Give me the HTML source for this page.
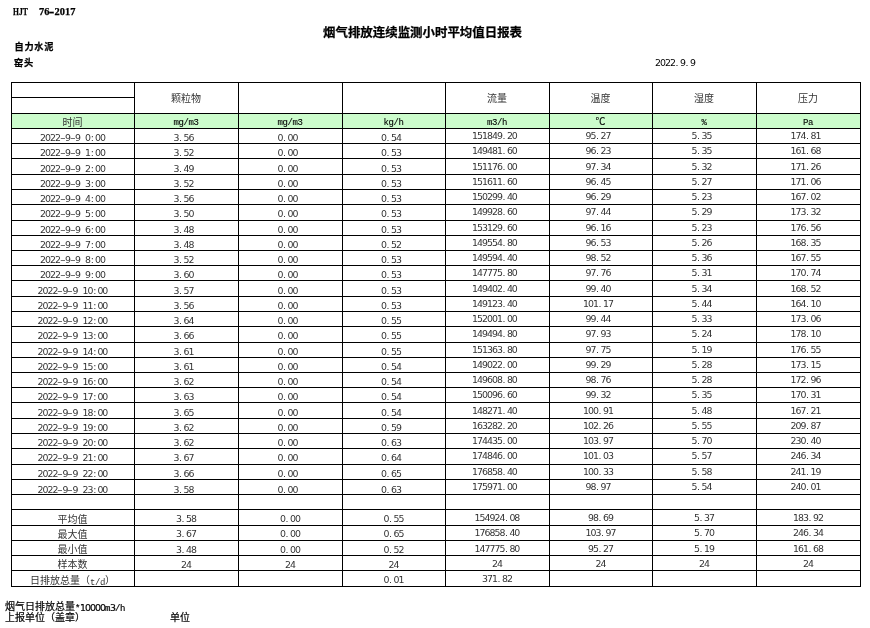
<!DOCTYPE html>
<html><head><meta charset="utf-8"><style>
html,body{margin:0;padding:0;background:#fff;width:870px;height:628px;overflow:hidden}
#p{position:relative;width:870px;height:628px;background:#fff}
.l{position:absolute;background:#000}
.g{position:absolute;background:#ccfccc}
.t,.a{position:absolute;white-space:nowrap;font-family:"DejaVu Sans","Noto Sans CJK SC",sans-serif;font-size:9.4px;line-height:10px;height:10px;color:#333;letter-spacing:-0.98px}
.t{text-align:center;margin-top:-9px;margin-left:-0.6px}
.t.h{margin-top:0}
i{font-style:normal;display:inline-block;letter-spacing:0}
i.p{width:5px;text-align:left;text-indent:0.5px}
i.c{width:5px;text-align:center}
i.hy{transform:translateX(0.4px) scaleX(1.7)}
i.m{font-size:9px;font-family:"Liberation Mono",monospace;letter-spacing:-0.4px;position:relative;top:-1px}
b.d{font-weight:normal;font-size:9.4px;font-family:"DejaVu Sans",sans-serif;letter-spacing:-0.98px}
i.u{font-size:9px;font-family:"Liberation Mono",monospace;font-weight:normal;letter-spacing:-0.4px;position:relative;top:-1px;color:#000;-webkit-text-stroke:0.1px #000}
i.k{font-size:10px;font-family:"Noto Sans CJK SC",sans-serif;position:relative;top:-2px}
.b{position:absolute;white-space:nowrap;font-family:"Noto Sans CJK SC",sans-serif;font-weight:bold;-webkit-text-stroke:0.25px #000;font-size:10px;line-height:10px;color:#000}
</style></head><body><div id="p">
<div class="b" style="left:13px;top:7px;font-family:'Liberation Serif',serif;font-size:10.4px;letter-spacing:0;transform:scaleX(0.73);transform-origin:0 0">HJT</div>
<div class="b" style="left:39px;top:7px;font-family:'Liberation Serif',serif;font-size:10.4px;letter-spacing:0">76<i class="c" style="width:5.2px;font-family:'Liberation Sans';transform:scaleX(1.6)">-</i>2017</div>
<div class="b" style="left:323px;top:26px;font-size:12.45px;line-height:13px">烟气排放连续监测小时平均值日报表</div>
<div class="b" style="left:14.4px;top:40.5px;font-size:9.2px;letter-spacing:0.8px">自力水泥</div>
<div class="b" style="left:14px;top:57px;font-size:9.2px;letter-spacing:0.8px">窑头</div>
<div class="a" style="left:655px;top:58px;color:#000">2022<i class="p">.</i>9<i class="p">.</i>9</div>
<div class="g" style="left:11px;top:114px;width:849px;height:14px"></div>
<div class="l" style="left:11px;top:82px;width:850px;height:1px"></div>
<div class="l" style="left:11px;top:113px;width:850px;height:1px"></div>
<div class="l" style="left:11px;top:128px;width:850px;height:1px"></div>
<div class="l" style="left:11px;top:143px;width:850px;height:1px"></div>
<div class="l" style="left:11px;top:158px;width:850px;height:1px"></div>
<div class="l" style="left:11px;top:174px;width:850px;height:1px"></div>
<div class="l" style="left:11px;top:189px;width:850px;height:1px"></div>
<div class="l" style="left:11px;top:204px;width:850px;height:1px"></div>
<div class="l" style="left:11px;top:220px;width:850px;height:1px"></div>
<div class="l" style="left:11px;top:235px;width:850px;height:1px"></div>
<div class="l" style="left:11px;top:250px;width:850px;height:1px"></div>
<div class="l" style="left:11px;top:265px;width:850px;height:1px"></div>
<div class="l" style="left:11px;top:280px;width:850px;height:1px"></div>
<div class="l" style="left:11px;top:296px;width:850px;height:1px"></div>
<div class="l" style="left:11px;top:311px;width:850px;height:1px"></div>
<div class="l" style="left:11px;top:326px;width:850px;height:1px"></div>
<div class="l" style="left:11px;top:342px;width:850px;height:1px"></div>
<div class="l" style="left:11px;top:357px;width:850px;height:1px"></div>
<div class="l" style="left:11px;top:372px;width:850px;height:1px"></div>
<div class="l" style="left:11px;top:387px;width:850px;height:1px"></div>
<div class="l" style="left:11px;top:402px;width:850px;height:1px"></div>
<div class="l" style="left:11px;top:418px;width:850px;height:1px"></div>
<div class="l" style="left:11px;top:433px;width:850px;height:1px"></div>
<div class="l" style="left:11px;top:448px;width:850px;height:1px"></div>
<div class="l" style="left:11px;top:464px;width:850px;height:1px"></div>
<div class="l" style="left:11px;top:479px;width:850px;height:1px"></div>
<div class="l" style="left:11px;top:494px;width:850px;height:1px"></div>
<div class="l" style="left:11px;top:509px;width:850px;height:1px"></div>
<div class="l" style="left:11px;top:525px;width:850px;height:1px"></div>
<div class="l" style="left:11px;top:540px;width:850px;height:1px"></div>
<div class="l" style="left:11px;top:555px;width:850px;height:1px"></div>
<div class="l" style="left:11px;top:570px;width:850px;height:1px"></div>
<div class="l" style="left:11px;top:586px;width:850px;height:1px"></div>
<div class="l" style="left:11px;top:97px;width:123px;height:1px"></div>
<div class="l" style="left:11px;top:82px;width:1px;height:505px"></div>
<div class="l" style="left:134px;top:82px;width:1px;height:505px"></div>
<div class="l" style="left:238px;top:82px;width:1px;height:505px"></div>
<div class="l" style="left:342px;top:82px;width:1px;height:505px"></div>
<div class="l" style="left:445px;top:82px;width:1px;height:505px"></div>
<div class="l" style="left:549px;top:82px;width:1px;height:505px"></div>
<div class="l" style="left:652px;top:82px;width:1px;height:505px"></div>
<div class="l" style="left:756px;top:82px;width:1px;height:505px"></div>
<div class="l" style="left:860px;top:82px;width:1px;height:505px"></div>
<div class="t h" style="left:135px;width:103px;top:95px"><i class="k">颗粒物</i></div>
<div class="t h" style="left:446px;width:103px;top:95px"><i class="k">流量</i></div>
<div class="t h" style="left:550px;width:102px;top:95px"><i class="k">温度</i></div>
<div class="t h" style="left:653px;width:103px;top:95px"><i class="k">湿度</i></div>
<div class="t h" style="left:757px;width:103px;top:95px"><i class="k">压力</i></div>
<div class="t" style="left:12px;width:122px;top:128px"><i class="k">时间</i></div>
<div class="t" style="left:135px;width:103px;top:127px"><i class="u">mg/m3</i></div>
<div class="t" style="left:239px;width:103px;top:127px"><i class="u">mg/m3</i></div>
<div class="t" style="left:343px;width:102px;top:127px"><i class="u">kg/h</i></div>
<div class="t" style="left:446px;width:103px;top:127px"><i class="u">m3/h</i></div>
<div class="t" style="left:550px;width:102px;top:127px"><i class="u"><i class="k" style="top:-1px">℃</i></i></div>
<div class="t" style="left:653px;width:103px;top:127px"><i class="u">%</i></div>
<div class="t" style="left:757px;width:103px;top:127px"><i class="u">Pa</i></div>
<div class="t" style="left:12px;width:122px;top:142px">2022<i class="c hy">-</i>9<i class="c hy">-</i>9<i class="c">&nbsp;</i>0<i class="c">:</i>00</div>
<div class="t" style="left:135px;width:103px;top:142px">3<i class="p">.</i>56<i class="c">&nbsp;</i></div>
<div class="t" style="left:239px;width:103px;top:142px">0<i class="p">.</i>00<i class="c">&nbsp;</i></div>
<div class="t" style="left:343px;width:102px;top:142px">0<i class="p">.</i>54<i class="c">&nbsp;</i></div>
<div class="t" style="left:446px;width:103px;top:140px">151849<i class="p">.</i>20<i class="c">&nbsp;</i></div>
<div class="t" style="left:550px;width:102px;top:140px">95<i class="p">.</i>27<i class="c">&nbsp;</i></div>
<div class="t" style="left:653px;width:103px;top:140px">5<i class="p">.</i>35<i class="c">&nbsp;</i></div>
<div class="t" style="left:757px;width:103px;top:140px">174<i class="p">.</i>81<i class="c">&nbsp;</i></div>
<div class="t" style="left:12px;width:122px;top:157px">2022<i class="c hy">-</i>9<i class="c hy">-</i>9<i class="c">&nbsp;</i>1<i class="c">:</i>00</div>
<div class="t" style="left:135px;width:103px;top:157px">3<i class="p">.</i>52<i class="c">&nbsp;</i></div>
<div class="t" style="left:239px;width:103px;top:157px">0<i class="p">.</i>00<i class="c">&nbsp;</i></div>
<div class="t" style="left:343px;width:102px;top:157px">0<i class="p">.</i>53<i class="c">&nbsp;</i></div>
<div class="t" style="left:446px;width:103px;top:155px">149481<i class="p">.</i>60<i class="c">&nbsp;</i></div>
<div class="t" style="left:550px;width:102px;top:155px">96<i class="p">.</i>23<i class="c">&nbsp;</i></div>
<div class="t" style="left:653px;width:103px;top:155px">5<i class="p">.</i>35<i class="c">&nbsp;</i></div>
<div class="t" style="left:757px;width:103px;top:155px">161<i class="p">.</i>68<i class="c">&nbsp;</i></div>
<div class="t" style="left:12px;width:122px;top:173px">2022<i class="c hy">-</i>9<i class="c hy">-</i>9<i class="c">&nbsp;</i>2<i class="c">:</i>00</div>
<div class="t" style="left:135px;width:103px;top:173px">3<i class="p">.</i>49<i class="c">&nbsp;</i></div>
<div class="t" style="left:239px;width:103px;top:173px">0<i class="p">.</i>00<i class="c">&nbsp;</i></div>
<div class="t" style="left:343px;width:102px;top:173px">0<i class="p">.</i>53<i class="c">&nbsp;</i></div>
<div class="t" style="left:446px;width:103px;top:171px">151176<i class="p">.</i>00<i class="c">&nbsp;</i></div>
<div class="t" style="left:550px;width:102px;top:171px">97<i class="p">.</i>34<i class="c">&nbsp;</i></div>
<div class="t" style="left:653px;width:103px;top:171px">5<i class="p">.</i>32<i class="c">&nbsp;</i></div>
<div class="t" style="left:757px;width:103px;top:171px">171<i class="p">.</i>26<i class="c">&nbsp;</i></div>
<div class="t" style="left:12px;width:122px;top:188px">2022<i class="c hy">-</i>9<i class="c hy">-</i>9<i class="c">&nbsp;</i>3<i class="c">:</i>00</div>
<div class="t" style="left:135px;width:103px;top:188px">3<i class="p">.</i>52<i class="c">&nbsp;</i></div>
<div class="t" style="left:239px;width:103px;top:188px">0<i class="p">.</i>00<i class="c">&nbsp;</i></div>
<div class="t" style="left:343px;width:102px;top:188px">0<i class="p">.</i>53<i class="c">&nbsp;</i></div>
<div class="t" style="left:446px;width:103px;top:186px">151611<i class="p">.</i>60<i class="c">&nbsp;</i></div>
<div class="t" style="left:550px;width:102px;top:186px">96<i class="p">.</i>45<i class="c">&nbsp;</i></div>
<div class="t" style="left:653px;width:103px;top:186px">5<i class="p">.</i>27<i class="c">&nbsp;</i></div>
<div class="t" style="left:757px;width:103px;top:186px">171<i class="p">.</i>06<i class="c">&nbsp;</i></div>
<div class="t" style="left:12px;width:122px;top:203px">2022<i class="c hy">-</i>9<i class="c hy">-</i>9<i class="c">&nbsp;</i>4<i class="c">:</i>00</div>
<div class="t" style="left:135px;width:103px;top:203px">3<i class="p">.</i>56<i class="c">&nbsp;</i></div>
<div class="t" style="left:239px;width:103px;top:203px">0<i class="p">.</i>00<i class="c">&nbsp;</i></div>
<div class="t" style="left:343px;width:102px;top:203px">0<i class="p">.</i>53<i class="c">&nbsp;</i></div>
<div class="t" style="left:446px;width:103px;top:201px">150299<i class="p">.</i>40<i class="c">&nbsp;</i></div>
<div class="t" style="left:550px;width:102px;top:201px">96<i class="p">.</i>29<i class="c">&nbsp;</i></div>
<div class="t" style="left:653px;width:103px;top:201px">5<i class="p">.</i>23<i class="c">&nbsp;</i></div>
<div class="t" style="left:757px;width:103px;top:201px">167<i class="p">.</i>02<i class="c">&nbsp;</i></div>
<div class="t" style="left:12px;width:122px;top:218px">2022<i class="c hy">-</i>9<i class="c hy">-</i>9<i class="c">&nbsp;</i>5<i class="c">:</i>00</div>
<div class="t" style="left:135px;width:103px;top:218px">3<i class="p">.</i>50<i class="c">&nbsp;</i></div>
<div class="t" style="left:239px;width:103px;top:218px">0<i class="p">.</i>00<i class="c">&nbsp;</i></div>
<div class="t" style="left:343px;width:102px;top:218px">0<i class="p">.</i>53<i class="c">&nbsp;</i></div>
<div class="t" style="left:446px;width:103px;top:216px">149928<i class="p">.</i>60<i class="c">&nbsp;</i></div>
<div class="t" style="left:550px;width:102px;top:216px">97<i class="p">.</i>44<i class="c">&nbsp;</i></div>
<div class="t" style="left:653px;width:103px;top:216px">5<i class="p">.</i>29<i class="c">&nbsp;</i></div>
<div class="t" style="left:757px;width:103px;top:216px">173<i class="p">.</i>32<i class="c">&nbsp;</i></div>
<div class="t" style="left:12px;width:122px;top:234px">2022<i class="c hy">-</i>9<i class="c hy">-</i>9<i class="c">&nbsp;</i>6<i class="c">:</i>00</div>
<div class="t" style="left:135px;width:103px;top:234px">3<i class="p">.</i>48<i class="c">&nbsp;</i></div>
<div class="t" style="left:239px;width:103px;top:234px">0<i class="p">.</i>00<i class="c">&nbsp;</i></div>
<div class="t" style="left:343px;width:102px;top:234px">0<i class="p">.</i>53<i class="c">&nbsp;</i></div>
<div class="t" style="left:446px;width:103px;top:232px">153129<i class="p">.</i>60<i class="c">&nbsp;</i></div>
<div class="t" style="left:550px;width:102px;top:232px">96<i class="p">.</i>16<i class="c">&nbsp;</i></div>
<div class="t" style="left:653px;width:103px;top:232px">5<i class="p">.</i>23<i class="c">&nbsp;</i></div>
<div class="t" style="left:757px;width:103px;top:232px">176<i class="p">.</i>56<i class="c">&nbsp;</i></div>
<div class="t" style="left:12px;width:122px;top:249px">2022<i class="c hy">-</i>9<i class="c hy">-</i>9<i class="c">&nbsp;</i>7<i class="c">:</i>00</div>
<div class="t" style="left:135px;width:103px;top:249px">3<i class="p">.</i>48<i class="c">&nbsp;</i></div>
<div class="t" style="left:239px;width:103px;top:249px">0<i class="p">.</i>00<i class="c">&nbsp;</i></div>
<div class="t" style="left:343px;width:102px;top:249px">0<i class="p">.</i>52<i class="c">&nbsp;</i></div>
<div class="t" style="left:446px;width:103px;top:247px">149554<i class="p">.</i>80<i class="c">&nbsp;</i></div>
<div class="t" style="left:550px;width:102px;top:247px">96<i class="p">.</i>53<i class="c">&nbsp;</i></div>
<div class="t" style="left:653px;width:103px;top:247px">5<i class="p">.</i>26<i class="c">&nbsp;</i></div>
<div class="t" style="left:757px;width:103px;top:247px">168<i class="p">.</i>35<i class="c">&nbsp;</i></div>
<div class="t" style="left:12px;width:122px;top:264px">2022<i class="c hy">-</i>9<i class="c hy">-</i>9<i class="c">&nbsp;</i>8<i class="c">:</i>00</div>
<div class="t" style="left:135px;width:103px;top:264px">3<i class="p">.</i>52<i class="c">&nbsp;</i></div>
<div class="t" style="left:239px;width:103px;top:264px">0<i class="p">.</i>00<i class="c">&nbsp;</i></div>
<div class="t" style="left:343px;width:102px;top:264px">0<i class="p">.</i>53<i class="c">&nbsp;</i></div>
<div class="t" style="left:446px;width:103px;top:262px">149594<i class="p">.</i>40<i class="c">&nbsp;</i></div>
<div class="t" style="left:550px;width:102px;top:262px">98<i class="p">.</i>52<i class="c">&nbsp;</i></div>
<div class="t" style="left:653px;width:103px;top:262px">5<i class="p">.</i>36<i class="c">&nbsp;</i></div>
<div class="t" style="left:757px;width:103px;top:262px">167<i class="p">.</i>55<i class="c">&nbsp;</i></div>
<div class="t" style="left:12px;width:122px;top:279px">2022<i class="c hy">-</i>9<i class="c hy">-</i>9<i class="c">&nbsp;</i>9<i class="c">:</i>00</div>
<div class="t" style="left:135px;width:103px;top:279px">3<i class="p">.</i>60<i class="c">&nbsp;</i></div>
<div class="t" style="left:239px;width:103px;top:279px">0<i class="p">.</i>00<i class="c">&nbsp;</i></div>
<div class="t" style="left:343px;width:102px;top:279px">0<i class="p">.</i>53<i class="c">&nbsp;</i></div>
<div class="t" style="left:446px;width:103px;top:277px">147775<i class="p">.</i>80<i class="c">&nbsp;</i></div>
<div class="t" style="left:550px;width:102px;top:277px">97<i class="p">.</i>76<i class="c">&nbsp;</i></div>
<div class="t" style="left:653px;width:103px;top:277px">5<i class="p">.</i>31<i class="c">&nbsp;</i></div>
<div class="t" style="left:757px;width:103px;top:277px">170<i class="p">.</i>74<i class="c">&nbsp;</i></div>
<div class="t" style="left:12px;width:122px;top:295px">2022<i class="c hy">-</i>9<i class="c hy">-</i>9<i class="c">&nbsp;</i>10<i class="c">:</i>00</div>
<div class="t" style="left:135px;width:103px;top:295px">3<i class="p">.</i>57<i class="c">&nbsp;</i></div>
<div class="t" style="left:239px;width:103px;top:295px">0<i class="p">.</i>00<i class="c">&nbsp;</i></div>
<div class="t" style="left:343px;width:102px;top:295px">0<i class="p">.</i>53<i class="c">&nbsp;</i></div>
<div class="t" style="left:446px;width:103px;top:293px">149402<i class="p">.</i>40<i class="c">&nbsp;</i></div>
<div class="t" style="left:550px;width:102px;top:293px">99<i class="p">.</i>40<i class="c">&nbsp;</i></div>
<div class="t" style="left:653px;width:103px;top:293px">5<i class="p">.</i>34<i class="c">&nbsp;</i></div>
<div class="t" style="left:757px;width:103px;top:293px">168<i class="p">.</i>52<i class="c">&nbsp;</i></div>
<div class="t" style="left:12px;width:122px;top:310px">2022<i class="c hy">-</i>9<i class="c hy">-</i>9<i class="c">&nbsp;</i>11<i class="c">:</i>00</div>
<div class="t" style="left:135px;width:103px;top:310px">3<i class="p">.</i>56<i class="c">&nbsp;</i></div>
<div class="t" style="left:239px;width:103px;top:310px">0<i class="p">.</i>00<i class="c">&nbsp;</i></div>
<div class="t" style="left:343px;width:102px;top:310px">0<i class="p">.</i>53<i class="c">&nbsp;</i></div>
<div class="t" style="left:446px;width:103px;top:308px">149123<i class="p">.</i>40<i class="c">&nbsp;</i></div>
<div class="t" style="left:550px;width:102px;top:308px">101<i class="p">.</i>17<i class="c">&nbsp;</i></div>
<div class="t" style="left:653px;width:103px;top:308px">5<i class="p">.</i>44<i class="c">&nbsp;</i></div>
<div class="t" style="left:757px;width:103px;top:308px">164<i class="p">.</i>10<i class="c">&nbsp;</i></div>
<div class="t" style="left:12px;width:122px;top:325px">2022<i class="c hy">-</i>9<i class="c hy">-</i>9<i class="c">&nbsp;</i>12<i class="c">:</i>00</div>
<div class="t" style="left:135px;width:103px;top:325px">3<i class="p">.</i>64<i class="c">&nbsp;</i></div>
<div class="t" style="left:239px;width:103px;top:325px">0<i class="p">.</i>00<i class="c">&nbsp;</i></div>
<div class="t" style="left:343px;width:102px;top:325px">0<i class="p">.</i>55<i class="c">&nbsp;</i></div>
<div class="t" style="left:446px;width:103px;top:323px">152001<i class="p">.</i>00<i class="c">&nbsp;</i></div>
<div class="t" style="left:550px;width:102px;top:323px">99<i class="p">.</i>44<i class="c">&nbsp;</i></div>
<div class="t" style="left:653px;width:103px;top:323px">5<i class="p">.</i>33<i class="c">&nbsp;</i></div>
<div class="t" style="left:757px;width:103px;top:323px">173<i class="p">.</i>06<i class="c">&nbsp;</i></div>
<div class="t" style="left:12px;width:122px;top:340px">2022<i class="c hy">-</i>9<i class="c hy">-</i>9<i class="c">&nbsp;</i>13<i class="c">:</i>00</div>
<div class="t" style="left:135px;width:103px;top:340px">3<i class="p">.</i>66<i class="c">&nbsp;</i></div>
<div class="t" style="left:239px;width:103px;top:340px">0<i class="p">.</i>00<i class="c">&nbsp;</i></div>
<div class="t" style="left:343px;width:102px;top:340px">0<i class="p">.</i>55<i class="c">&nbsp;</i></div>
<div class="t" style="left:446px;width:103px;top:338px">149494<i class="p">.</i>80<i class="c">&nbsp;</i></div>
<div class="t" style="left:550px;width:102px;top:338px">97<i class="p">.</i>93<i class="c">&nbsp;</i></div>
<div class="t" style="left:653px;width:103px;top:338px">5<i class="p">.</i>24<i class="c">&nbsp;</i></div>
<div class="t" style="left:757px;width:103px;top:338px">178<i class="p">.</i>10<i class="c">&nbsp;</i></div>
<div class="t" style="left:12px;width:122px;top:356px">2022<i class="c hy">-</i>9<i class="c hy">-</i>9<i class="c">&nbsp;</i>14<i class="c">:</i>00</div>
<div class="t" style="left:135px;width:103px;top:356px">3<i class="p">.</i>61<i class="c">&nbsp;</i></div>
<div class="t" style="left:239px;width:103px;top:356px">0<i class="p">.</i>00<i class="c">&nbsp;</i></div>
<div class="t" style="left:343px;width:102px;top:356px">0<i class="p">.</i>55<i class="c">&nbsp;</i></div>
<div class="t" style="left:446px;width:103px;top:354px">151363<i class="p">.</i>80<i class="c">&nbsp;</i></div>
<div class="t" style="left:550px;width:102px;top:354px">97<i class="p">.</i>75<i class="c">&nbsp;</i></div>
<div class="t" style="left:653px;width:103px;top:354px">5<i class="p">.</i>19<i class="c">&nbsp;</i></div>
<div class="t" style="left:757px;width:103px;top:354px">176<i class="p">.</i>55<i class="c">&nbsp;</i></div>
<div class="t" style="left:12px;width:122px;top:371px">2022<i class="c hy">-</i>9<i class="c hy">-</i>9<i class="c">&nbsp;</i>15<i class="c">:</i>00</div>
<div class="t" style="left:135px;width:103px;top:371px">3<i class="p">.</i>61<i class="c">&nbsp;</i></div>
<div class="t" style="left:239px;width:103px;top:371px">0<i class="p">.</i>00<i class="c">&nbsp;</i></div>
<div class="t" style="left:343px;width:102px;top:371px">0<i class="p">.</i>54<i class="c">&nbsp;</i></div>
<div class="t" style="left:446px;width:103px;top:369px">149022<i class="p">.</i>00<i class="c">&nbsp;</i></div>
<div class="t" style="left:550px;width:102px;top:369px">99<i class="p">.</i>29<i class="c">&nbsp;</i></div>
<div class="t" style="left:653px;width:103px;top:369px">5<i class="p">.</i>28<i class="c">&nbsp;</i></div>
<div class="t" style="left:757px;width:103px;top:369px">173<i class="p">.</i>15<i class="c">&nbsp;</i></div>
<div class="t" style="left:12px;width:122px;top:386px">2022<i class="c hy">-</i>9<i class="c hy">-</i>9<i class="c">&nbsp;</i>16<i class="c">:</i>00</div>
<div class="t" style="left:135px;width:103px;top:386px">3<i class="p">.</i>62<i class="c">&nbsp;</i></div>
<div class="t" style="left:239px;width:103px;top:386px">0<i class="p">.</i>00<i class="c">&nbsp;</i></div>
<div class="t" style="left:343px;width:102px;top:386px">0<i class="p">.</i>54<i class="c">&nbsp;</i></div>
<div class="t" style="left:446px;width:103px;top:384px">149608<i class="p">.</i>80<i class="c">&nbsp;</i></div>
<div class="t" style="left:550px;width:102px;top:384px">98<i class="p">.</i>76<i class="c">&nbsp;</i></div>
<div class="t" style="left:653px;width:103px;top:384px">5<i class="p">.</i>28<i class="c">&nbsp;</i></div>
<div class="t" style="left:757px;width:103px;top:384px">172<i class="p">.</i>96<i class="c">&nbsp;</i></div>
<div class="t" style="left:12px;width:122px;top:401px">2022<i class="c hy">-</i>9<i class="c hy">-</i>9<i class="c">&nbsp;</i>17<i class="c">:</i>00</div>
<div class="t" style="left:135px;width:103px;top:401px">3<i class="p">.</i>63<i class="c">&nbsp;</i></div>
<div class="t" style="left:239px;width:103px;top:401px">0<i class="p">.</i>00<i class="c">&nbsp;</i></div>
<div class="t" style="left:343px;width:102px;top:401px">0<i class="p">.</i>54<i class="c">&nbsp;</i></div>
<div class="t" style="left:446px;width:103px;top:399px">150096<i class="p">.</i>60<i class="c">&nbsp;</i></div>
<div class="t" style="left:550px;width:102px;top:399px">99<i class="p">.</i>32<i class="c">&nbsp;</i></div>
<div class="t" style="left:653px;width:103px;top:399px">5<i class="p">.</i>35<i class="c">&nbsp;</i></div>
<div class="t" style="left:757px;width:103px;top:399px">170<i class="p">.</i>31<i class="c">&nbsp;</i></div>
<div class="t" style="left:12px;width:122px;top:417px">2022<i class="c hy">-</i>9<i class="c hy">-</i>9<i class="c">&nbsp;</i>18<i class="c">:</i>00</div>
<div class="t" style="left:135px;width:103px;top:417px">3<i class="p">.</i>65<i class="c">&nbsp;</i></div>
<div class="t" style="left:239px;width:103px;top:417px">0<i class="p">.</i>00<i class="c">&nbsp;</i></div>
<div class="t" style="left:343px;width:102px;top:417px">0<i class="p">.</i>54<i class="c">&nbsp;</i></div>
<div class="t" style="left:446px;width:103px;top:415px">148271<i class="p">.</i>40<i class="c">&nbsp;</i></div>
<div class="t" style="left:550px;width:102px;top:415px">100<i class="p">.</i>91<i class="c">&nbsp;</i></div>
<div class="t" style="left:653px;width:103px;top:415px">5<i class="p">.</i>48<i class="c">&nbsp;</i></div>
<div class="t" style="left:757px;width:103px;top:415px">167<i class="p">.</i>21<i class="c">&nbsp;</i></div>
<div class="t" style="left:12px;width:122px;top:432px">2022<i class="c hy">-</i>9<i class="c hy">-</i>9<i class="c">&nbsp;</i>19<i class="c">:</i>00</div>
<div class="t" style="left:135px;width:103px;top:432px">3<i class="p">.</i>62<i class="c">&nbsp;</i></div>
<div class="t" style="left:239px;width:103px;top:432px">0<i class="p">.</i>00<i class="c">&nbsp;</i></div>
<div class="t" style="left:343px;width:102px;top:432px">0<i class="p">.</i>59<i class="c">&nbsp;</i></div>
<div class="t" style="left:446px;width:103px;top:430px">163282<i class="p">.</i>20<i class="c">&nbsp;</i></div>
<div class="t" style="left:550px;width:102px;top:430px">102<i class="p">.</i>26<i class="c">&nbsp;</i></div>
<div class="t" style="left:653px;width:103px;top:430px">5<i class="p">.</i>55<i class="c">&nbsp;</i></div>
<div class="t" style="left:757px;width:103px;top:430px">209<i class="p">.</i>87<i class="c">&nbsp;</i></div>
<div class="t" style="left:12px;width:122px;top:447px">2022<i class="c hy">-</i>9<i class="c hy">-</i>9<i class="c">&nbsp;</i>20<i class="c">:</i>00</div>
<div class="t" style="left:135px;width:103px;top:447px">3<i class="p">.</i>62<i class="c">&nbsp;</i></div>
<div class="t" style="left:239px;width:103px;top:447px">0<i class="p">.</i>00<i class="c">&nbsp;</i></div>
<div class="t" style="left:343px;width:102px;top:447px">0<i class="p">.</i>63<i class="c">&nbsp;</i></div>
<div class="t" style="left:446px;width:103px;top:445px">174435<i class="p">.</i>00<i class="c">&nbsp;</i></div>
<div class="t" style="left:550px;width:102px;top:445px">103<i class="p">.</i>97<i class="c">&nbsp;</i></div>
<div class="t" style="left:653px;width:103px;top:445px">5<i class="p">.</i>70<i class="c">&nbsp;</i></div>
<div class="t" style="left:757px;width:103px;top:445px">230<i class="p">.</i>40<i class="c">&nbsp;</i></div>
<div class="t" style="left:12px;width:122px;top:462px">2022<i class="c hy">-</i>9<i class="c hy">-</i>9<i class="c">&nbsp;</i>21<i class="c">:</i>00</div>
<div class="t" style="left:135px;width:103px;top:462px">3<i class="p">.</i>67<i class="c">&nbsp;</i></div>
<div class="t" style="left:239px;width:103px;top:462px">0<i class="p">.</i>00<i class="c">&nbsp;</i></div>
<div class="t" style="left:343px;width:102px;top:462px">0<i class="p">.</i>64<i class="c">&nbsp;</i></div>
<div class="t" style="left:446px;width:103px;top:460px">174846<i class="p">.</i>00<i class="c">&nbsp;</i></div>
<div class="t" style="left:550px;width:102px;top:460px">101<i class="p">.</i>03<i class="c">&nbsp;</i></div>
<div class="t" style="left:653px;width:103px;top:460px">5<i class="p">.</i>57<i class="c">&nbsp;</i></div>
<div class="t" style="left:757px;width:103px;top:460px">246<i class="p">.</i>34<i class="c">&nbsp;</i></div>
<div class="t" style="left:12px;width:122px;top:478px">2022<i class="c hy">-</i>9<i class="c hy">-</i>9<i class="c">&nbsp;</i>22<i class="c">:</i>00</div>
<div class="t" style="left:135px;width:103px;top:478px">3<i class="p">.</i>66<i class="c">&nbsp;</i></div>
<div class="t" style="left:239px;width:103px;top:478px">0<i class="p">.</i>00<i class="c">&nbsp;</i></div>
<div class="t" style="left:343px;width:102px;top:478px">0<i class="p">.</i>65<i class="c">&nbsp;</i></div>
<div class="t" style="left:446px;width:103px;top:476px">176858<i class="p">.</i>40<i class="c">&nbsp;</i></div>
<div class="t" style="left:550px;width:102px;top:476px">100<i class="p">.</i>33<i class="c">&nbsp;</i></div>
<div class="t" style="left:653px;width:103px;top:476px">5<i class="p">.</i>58<i class="c">&nbsp;</i></div>
<div class="t" style="left:757px;width:103px;top:476px">241<i class="p">.</i>19<i class="c">&nbsp;</i></div>
<div class="t" style="left:12px;width:122px;top:494px">2022<i class="c hy">-</i>9<i class="c hy">-</i>9<i class="c">&nbsp;</i>23<i class="c">:</i>00</div>
<div class="t" style="left:135px;width:103px;top:494px">3<i class="p">.</i>58<i class="c">&nbsp;</i></div>
<div class="t" style="left:239px;width:103px;top:494px">0<i class="p">.</i>00<i class="c">&nbsp;</i></div>
<div class="t" style="left:343px;width:102px;top:494px">0<i class="p">.</i>63<i class="c">&nbsp;</i></div>
<div class="t" style="left:446px;width:103px;top:491px">175971<i class="p">.</i>00<i class="c">&nbsp;</i></div>
<div class="t" style="left:550px;width:102px;top:491px">98<i class="p">.</i>97<i class="c">&nbsp;</i></div>
<div class="t" style="left:653px;width:103px;top:491px">5<i class="p">.</i>54<i class="c">&nbsp;</i></div>
<div class="t" style="left:757px;width:103px;top:491px">240<i class="p">.</i>01<i class="c">&nbsp;</i></div>
<div class="t" style="left:12px;width:122px;top:525px"><i class="k">平均值</i></div>
<div class="t" style="left:135px;width:103px;top:523px">3<i class="p">.</i>58</div>
<div class="t" style="left:239px;width:103px;top:523px">0<i class="p">.</i>00</div>
<div class="t" style="left:343px;width:102px;top:523px">0<i class="p">.</i>55</div>
<div class="t" style="left:446px;width:103px;top:522px">154924<i class="p">.</i>08</div>
<div class="t" style="left:550px;width:102px;top:522px">98<i class="p">.</i>69</div>
<div class="t" style="left:653px;width:103px;top:522px">5<i class="p">.</i>37</div>
<div class="t" style="left:757px;width:103px;top:522px">183<i class="p">.</i>92</div>
<div class="t" style="left:12px;width:122px;top:540px"><i class="k">最大值</i></div>
<div class="t" style="left:135px;width:103px;top:538px">3<i class="p">.</i>67</div>
<div class="t" style="left:239px;width:103px;top:538px">0<i class="p">.</i>00</div>
<div class="t" style="left:343px;width:102px;top:538px">0<i class="p">.</i>65</div>
<div class="t" style="left:446px;width:103px;top:537px">176858<i class="p">.</i>40</div>
<div class="t" style="left:550px;width:102px;top:537px">103<i class="p">.</i>97</div>
<div class="t" style="left:653px;width:103px;top:537px">5<i class="p">.</i>70</div>
<div class="t" style="left:757px;width:103px;top:537px">246<i class="p">.</i>34</div>
<div class="t" style="left:12px;width:122px;top:555px"><i class="k">最小值</i></div>
<div class="t" style="left:135px;width:103px;top:554px">3<i class="p">.</i>48</div>
<div class="t" style="left:239px;width:103px;top:554px">0<i class="p">.</i>00</div>
<div class="t" style="left:343px;width:102px;top:554px">0<i class="p">.</i>52</div>
<div class="t" style="left:446px;width:103px;top:553px">147775<i class="p">.</i>80</div>
<div class="t" style="left:550px;width:102px;top:553px">95<i class="p">.</i>27</div>
<div class="t" style="left:653px;width:103px;top:553px">5<i class="p">.</i>19</div>
<div class="t" style="left:757px;width:103px;top:553px">161<i class="p">.</i>68</div>
<div class="t" style="left:12px;width:122px;top:570px"><i class="k">样本数</i></div>
<div class="t" style="left:135px;width:103px;top:569px">24</div>
<div class="t" style="left:239px;width:103px;top:569px">24</div>
<div class="t" style="left:343px;width:102px;top:569px">24</div>
<div class="t" style="left:446px;width:103px;top:568px">24</div>
<div class="t" style="left:550px;width:102px;top:568px">24</div>
<div class="t" style="left:653px;width:103px;top:568px">24</div>
<div class="t" style="left:757px;width:103px;top:568px">24</div>
<div class="t" style="left:12px;width:122px;top:586px"><i class="k">日排放总量（</i><i class="m">t/d</i><i class="k">）</i></div>
<div class="t" style="left:343px;width:102px;top:584px">0<i class="p">.</i>01</div>
<div class="t" style="left:446px;width:103px;top:583px">371<i class="p">.</i>82</div>
<div class="a" style="left:5px;top:603px;color:#000;-webkit-text-stroke:0.2px #000"><i class="k">烟气日排放总量</i><i class="m">*<b class="d">10000</b>m<b class="d">3</b>/h</i></div>
<div class="a" style="left:5px;top:614px;color:#000;-webkit-text-stroke:0.2px #000"><i class="k">上报单位（盖章）</i></div>
<div class="a" style="left:170px;top:614px;color:#000;-webkit-text-stroke:0.2px #000"><i class="k">单位</i></div>
</div></body></html>
